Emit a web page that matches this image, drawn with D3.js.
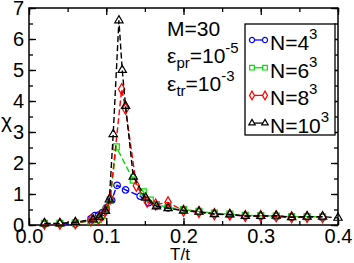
<!DOCTYPE html>
<html>
<head>
<meta charset="utf-8">
<script src="https://cdnjs.cloudflare.com/ajax/libs/d3/7.8.5/d3.min.js"></script>
<style>
  body { margin: 0; background: #fff; }
  svg { display: block; font-family: "Liberation Sans", Arial, sans-serif; }
</style>
</head>
<body>
<div id="graph"></div>
<script>
// chi vs T/t for four lattice sizes
var xTicks = [0, 0.1, 0.2, 0.3, 0.4];
var xTickLabels = ["0.0", "0.1", "0.2", "0.3", "0.4"];
var yTicks = [0, 1, 2, 3, 4, 5, 6, 7];

var T4 = [0.02,0.04,0.06,0.08,0.085,0.09,0.095,0.1,0.107,0.114,0.125,0.144,0.155,0.165,0.18,0.2,0.22,0.24,0.26,0.28,0.3,0.32,0.34,0.36,0.38];
var chi4 = [0.03,0.04,0.03,0.2,0.3,0.32,0.4,0.55,0.8,1.28,1.13,0.93,0.72,0.62,0.55,0.47,0.42,0.36,0.33,0.29,0.29,0.27,0.25,0.26,0.25];

var T6 = [0.02,0.04,0.06,0.08,0.09,0.095,0.1,0.105,0.113,0.135,0.148,0.157,0.165,0.18,0.2,0.22,0.24,0.26,0.28,0.3,0.32,0.34,0.36,0.38];
var chi6 = [0.05,0.05,0.07,0.13,0.17,0.3,0.5,0.8,2.52,1.45,1.07,0.8,0.66,0.57,0.5,0.44,0.38,0.35,0.31,0.3,0.29,0.27,0.27,0.26];

var T8 = [0.02,0.04,0.06,0.08,0.09,0.095,0.1,0.105,0.12,0.125,0.139,0.153,0.164,0.18,0.2,0.22,0.24,0.26,0.28,0.3,0.32,0.34,0.36,0.38];
var chi8 = [0.04,0.04,0.06,0.15,0.2,0.32,0.5,0.85,4.38,3.75,1.27,0.75,0.66,0.73,0.46,0.42,0.35,0.33,0.29,0.29,0.28,0.25,0.26,0.25];

var T10 = [0.02,0.04,0.06,0.083,0.091,0.099,0.104,0.109,0.1164,0.1207,0.125,0.135,0.151,0.165,0.18,0.2,0.22,0.24,0.26,0.28,0.3,0.32,0.34,0.36,0.38,0.4];
var chi10 = [0.05,0.05,0.09,0.18,0.25,0.45,0.82,2.93,6.6,5.0,3.84,1.56,0.88,0.6,0.54,0.46,0.43,0.35,0.34,0.29,0.29,0.3,0.25,0.27,0.27,0.23];

var seriesNames = ["N=4", "N=6", "N=8", "N=10"];

(function(){
  "use strict";
  var width = 354, height = 263;
  var left = 29, right = 338, top = 8, bottom = 225;

  var series = [
    {name: seriesNames[0], T: T4, chi: chi4, color: "#0000ff", sym: d3.symbolCircle, size: 34},
    {name: seriesNames[1], T: T6, chi: chi6, color: "#00e000", sym: d3.symbolSquare, size: 36},
    {name: seriesNames[2], T: T8, chi: chi8, color: "#ff0000", sym: d3.symbolDiamond, size: 36},
    {name: seriesNames[3], T: T10, chi: chi10, color: "#000000", sym: d3.symbolTriangle, size: 30}
  ];

  var x = d3.scaleLinear().domain([0, 0.4]).range([left, right]);
  var y = d3.scaleLinear().domain([0, 7]).range([bottom, top]);

  var svg = d3.select("#graph").append("svg")
    .attr("width", width).attr("height", height);

  var xMinor = d3.range(0, 0.401, 0.05);
  var yMinor = d3.range(0, 7.01, 0.5);

  // minor ticks on all four sides
  function minorAxis(axis, scale, vals, tr) {
    svg.append("g").attr("transform", tr)
      .call(axis(scale).tickValues(vals).tickSize(-4).tickFormat(""))
      .call(function(g){ g.select(".domain").remove(); g.selectAll("line").attr("stroke-width", 1.3); });
  }
  minorAxis(d3.axisBottom, x, xMinor, "translate(0," + bottom + ")");
  minorAxis(d3.axisTop, x, xMinor, "translate(0," + top + ")");
  minorAxis(d3.axisLeft, y, yMinor, "translate(" + left + ",0)");
  minorAxis(d3.axisRight, y, yMinor, "translate(" + right + ",0)");

  svg.append("g").attr("transform", "translate(0," + bottom + ")")
    .call(d3.axisBottom(x).tickValues(xTicks).tickSize(-7).tickPadding(4)
      .tickFormat(function(d, i){ return xTickLabels[i]; }));
  svg.append("g").attr("transform", "translate(" + left + ",0)")
    .call(d3.axisLeft(y).tickValues(yTicks).tickSize(-7).tickPadding(5).tickFormat(d3.format("d")));
  svg.append("g").attr("transform", "translate(0," + top + ")")
    .call(d3.axisTop(x).tickValues(xTicks).tickSize(-7).tickFormat(""));
  svg.append("g").attr("transform", "translate(" + right + ",0)")
    .call(d3.axisRight(y).tickValues(yTicks).tickSize(-7).tickFormat(""));

  svg.selectAll(".domain").remove();
  svg.selectAll(".tick line").attr("stroke", "#000").attr("stroke-width", 1.3);
  svg.selectAll(".tick text").attr("font-size", 20).attr("fill", "#000")
    .attr("font-family", "Liberation Sans, Arial, sans-serif");

  // frame
  svg.append("rect")
    .attr("x", left).attr("y", top)
    .attr("width", right - left).attr("height", bottom - top)
    .attr("fill", "none").attr("stroke", "#000").attr("stroke-width", 1.5);

  // axis labels
  svg.append("text").attr("x", 1).attr("y", 128).attr("font-size", 21).text("\u03c7");
  svg.append("text").attr("x", 180).attr("y", 260).attr("font-size", 17)
    .attr("text-anchor", "middle").text("T/t");

  var line = d3.line()
    .x(function(d){ return x(d[0]); })
    .y(function(d){ return y(d[1]); });

  series.forEach(function(s){
    var pts = s.T.map(function(t, i){ return [t, s.chi[i]]; });
    var g = svg.append("g");
    g.append("path")
      .attr("d", line(pts))
      .attr("fill", "none")
      .attr("stroke", s.color)
      .attr("stroke-width", 1.4)
      .attr("stroke-dasharray", "6,3");
    g.selectAll("path.m")
      .data(pts)
      .enter()
      .append("path")
      .attr("class", "m")
      .attr("transform", function(d){ return "translate(" + x(d[0]) + "," + y(d[1]) + ")"; })
      .attr("d", d3.symbol().type(s.sym).size(s.size))
      .attr("fill", "none")
      .attr("stroke", s.color)
      .attr("stroke-width", 1.2);
  });

  // annotation
  var ann = svg.append("g").attr("font-size", 21);
  ann.append("text").attr("x", 167).attr("y", 36).text("M=30");
  var e1 = ann.append("text").attr("x", 167).attr("y", 63);
  e1.append("tspan").text("\u03b5");
  e1.append("tspan").attr("font-size", 15).attr("dy", 5).text("pr");
  e1.append("tspan").attr("dy", -5).text("=10");
  e1.append("tspan").attr("font-size", 15).attr("dy", -10).text("-5");
  var e2 = ann.append("text").attr("x", 167).attr("y", 91);
  e2.append("tspan").text("\u03b5");
  e2.append("tspan").attr("font-size", 15).attr("dy", 5).text("tr");
  e2.append("tspan").attr("dy", -5).text("=10");
  e2.append("tspan").attr("font-size", 15).attr("dy", -10).text("-3");

  // legend
  var lg = svg.append("g");
  lg.append("rect").attr("x", 245).attr("y", 24).attr("width", 90).attr("height", 111)
    .attr("fill", "#fff").attr("stroke", "#000").attr("stroke-width", 1.3);
  series.forEach(function(s, i){
    var yy = 40 + i * 27.7;
    lg.append("line").attr("x1", 252).attr("x2", 265).attr("y1", yy).attr("y2", yy)
      .attr("stroke", s.color).attr("stroke-width", 1.3);
    [252, 265].forEach(function(px){
      lg.append("path")
        .attr("transform", "translate(" + px + "," + yy + ")")
        .attr("d", d3.symbol().type(s.sym).size(s.size * 0.6))
        .attr("fill", "#fff").attr("stroke", s.color).attr("stroke-width", 1.2);
    });
    var t = lg.append("text").attr("x", 270).attr("y", yy + 10).attr("font-size", 21);
    t.append("tspan").text(s.name);
    t.append("tspan").attr("font-size", 15).attr("dy", -11).text("3");
  });
})();
</script>
</body>
</html>
